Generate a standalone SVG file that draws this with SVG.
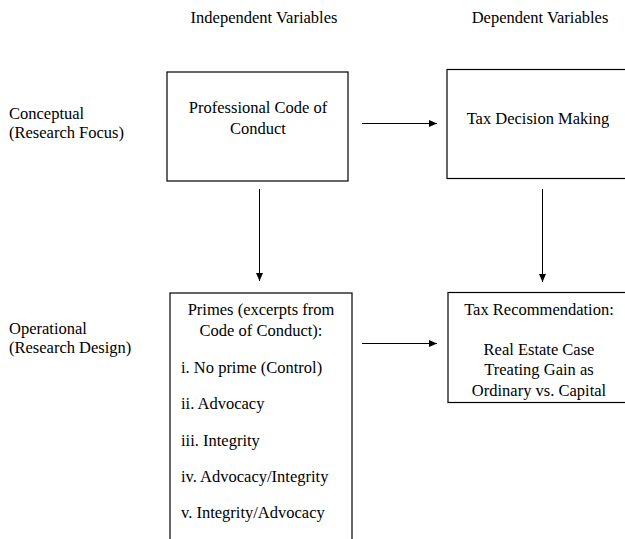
<svg xmlns="http://www.w3.org/2000/svg" width="625" height="539" viewBox="0 0 625 539">
<defs>
<marker id="ah" markerWidth="8" markerHeight="7" refX="8" refY="3.5" orient="auto" markerUnits="userSpaceOnUse">
<path d="M0,0 L8,3.5 L0,7 Z" fill="#000"/>
</marker>
<style>
text{font-family:"Liberation Serif","Times New Roman",serif;font-size:16.5px;fill:#000}
.c{text-anchor:middle}
.box{fill:#fff;stroke:#000;stroke-width:1.2}
.ln{stroke:#000;stroke-width:1;fill:none;marker-end:url(#ah)}
</style>
</defs>
<rect width="625" height="539" fill="#fff"/>
<g id="headers">
<text class="c" x="264" y="23">Independent Variables</text>
<text class="c" x="540" y="23">Dependent Variables</text>
</g>
<g id="rowlabels">
<text x="9" y="119">Conceptual</text>
<text x="9" y="138">(Research Focus)</text>
<text x="9" y="334">Operational</text>
<text x="9" y="353">(Research Design)</text>
</g>
<g id="code">
<rect class="box" x="167" y="72" width="181" height="109"/>
<text class="c" x="258" y="113">Professional Code of</text>
<text class="c" x="258" y="134">Conduct</text>
</g>
<g id="decision">
<rect class="box" x="447" y="69.5" width="190" height="109"/>
<text class="c" x="538" y="124">Tax Decision Making</text>
</g>
<g id="primes">
<rect class="box" x="170" y="293" width="182" height="260"/>
<text class="c" x="261" y="315">Primes (excerpts from</text>
<text class="c" x="261" y="336">Code of Conduct):</text>
<text x="181" y="373">i. No prime (Control)</text>
<text x="181" y="409">ii. Advocacy</text>
<text x="181" y="446">iii. Integrity</text>
<text x="181" y="482">iv. Advocacy/Integrity</text>
<text x="181" y="518">v. Integrity/Advocacy</text>
</g>
<g id="recommendation">
<rect class="box" x="448" y="292.5" width="190" height="110"/>
<text class="c" x="539" y="315">Tax Recommendation:</text>
<text class="c" x="539" y="355">Real Estate Case</text>
<text class="c" x="539" y="375">Treating Gain as</text>
<text class="c" x="539" y="396">Ordinary vs. Capital</text>
</g>
<g id="connectors">
<line class="ln" x1="362" y1="123.5" x2="437" y2="123.5"/>
<line class="ln" x1="362" y1="343.5" x2="437" y2="343.5"/>
<line class="ln" x1="259.5" y1="189" x2="259.5" y2="281"/>
<line class="ln" x1="542.5" y1="189" x2="542.5" y2="282"/>
</g>
</svg>
